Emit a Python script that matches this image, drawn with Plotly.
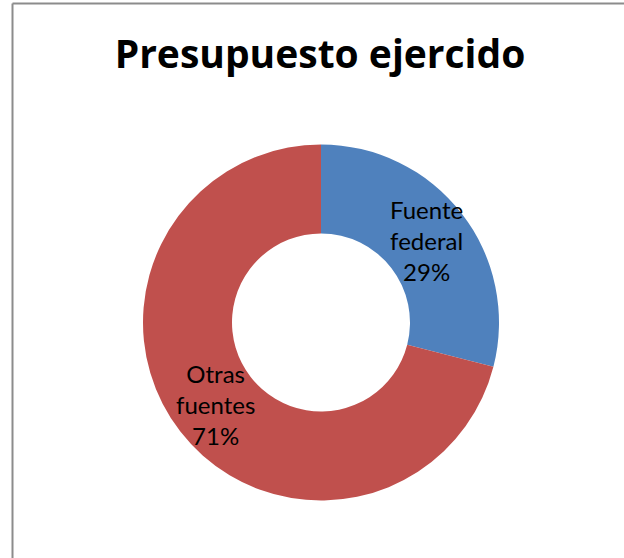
"""Donut chart: Presupuesto ejercido (federal vs. other sources)."""

import math

import plotly.graph_objects as go

# Slices (shares in percent).
LABELS = ["Fuente<br>federal", "Otras<br>fuentes"]
SHARES = [29, 71]
COLORS = ["#4F81BD", "#C0504D"]

TITLE = "Presupuesto ejercido"

W, H = 624, 558
HOLE = 0.5
# Pie box (paper fractions); the pie fills it, radius in px is half its side.
DOMAIN_X = [143 / W, 499 / W]
DOMAIN_Y = [57.5 / H, 413.5 / H]
RADIUS_PX = (DOMAIN_X[1] - DOMAIN_X[0]) * W / 2

fig = go.Figure()
fig.add_pie(
    labels=LABELS,
    values=SHARES,
    hole=HOLE,
    sort=False,
    direction="clockwise",
    rotation=0,
    marker={"colors": COLORS, "line": {"width": 0}},
    textinfo="none",
    domain={"x": DOMAIN_X, "y": DOMAIN_Y},
    showlegend=False,
    hoverinfo="label+percent",
)

# Data labels like Excel puts them: middle of the ring, at each slice's mid-angle.
cx = sum(DOMAIN_X) / 2
cy = sum(DOMAIN_Y) / 2
r_mid = RADIUS_PX * (1 + HOLE) / 2
total = sum(SHARES)
start = 0.0
for label, share in zip(LABELS, SHARES):
    theta = 2 * math.pi * (start + share / 2) / total
    start += share
    fig.add_annotation(
        x=cx + r_mid * math.sin(theta) / W,
        y=cy + r_mid * math.cos(theta) / H,
        xref="paper",
        yref="paper",
        xanchor="center",
        yanchor="middle",
        text=f"{label}<br>{round(100 * share / total)}%",
        showarrow=False,
        align="center",
        font={"family": "Lato", "size": 24, "color": "#000000"},
    )

# Chart-area frame (only top and left edges are visible in the crop).
frame = {"color": "#8C8C8C", "width": 2}
fig.add_shape(type="line", xref="paper", yref="paper",
              x0=12.5 / W, x1=1.02, y0=1 - 3.5 / H, y1=1 - 3.5 / H, line=frame)
fig.add_shape(type="line", xref="paper", yref="paper",
              x0=12.5 / W, x1=12.5 / W, y0=-0.02, y1=1 - 3.5 / H, line=frame)

fig.update_layout(
    width=W,
    height=H,
    margin={"l": 0, "r": 0, "t": 0, "b": 0},
    paper_bgcolor="#FFFFFF",
    plot_bgcolor="#FFFFFF",
    title={
        "text": f"<b>{TITLE}</b>",
        "x": 320 / W,
        "xanchor": "center",
        "y": 1 - 54 / H,
        "yanchor": "middle",
        "font": {"family": "Open Sans", "size": 39, "color": "#000000"},
    },
)

fig.write_html(
    "out.html",
    config={"displayModeBar": False},
    post_script="document.body.style.margin='0';document.body.style.overflow='hidden';",
)
